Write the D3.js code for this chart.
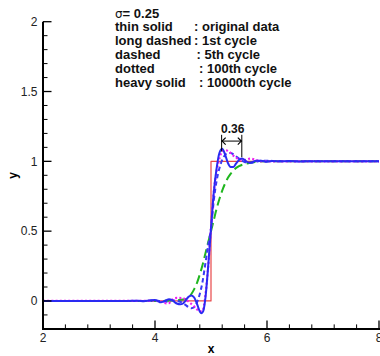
<!DOCTYPE html>
<html>
<head>
<meta charset="utf-8">
<script src="https://cdn.jsdelivr.net/npm/d3@7/dist/d3.min.js"></script>
<style>
  html, body { margin: 0; padding: 0; background: #fff; }
  svg { display: block; font-family: Arial, "Liberation Sans", Helvetica, sans-serif; }
</style>
</head>
<body>
<svg id="chart" width="380" height="356"></svg>
<script>
// ---------------- data ----------------
const xTicks = [2, 4, 6, 8];
const yTicks = [0, 0.5, 1, 1.5, 2];
const xTickLabels = ["2", "4", "6", "8"];
const yTickLabels = ["0", "0.5", "1", "1.5", "2"];

const origX = [2, 5, 5, 8];
const origY = [0, 0, 1, 1];

const cyc1X = [2, 4.0, 4.3, 4.5, 4.6, 4.65, 4.7, 4.75, 4.8, 4.85, 4.9, 4.95, 5.0, 5.05, 5.1, 5.15, 5.2, 5.25, 5.3, 5.35, 5.4, 5.5, 5.6, 5.7, 5.8, 6.0, 8];
const cyc1Y = [0, 0, 0.003, 0.01, 0.025, 0.05, 0.085, 0.13, 0.19, 0.26, 0.34, 0.42, 0.5, 0.58, 0.66, 0.73, 0.79, 0.84, 0.88, 0.91, 0.935, 0.965, 0.98, 0.99, 0.996, 1.0, 1.0];

const cyc5X = [2, 3.8, 4.0, 4.1, 4.2, 4.3, 4.4, 4.5, 4.55, 4.6, 4.65, 4.7, 4.75, 4.8, 4.85, 4.9, 4.95, 5.0, 5.05, 5.1, 5.15, 5.2, 5.25, 5.3, 5.35, 5.4, 5.45, 5.5, 5.55, 5.6, 5.65, 5.7, 5.8, 5.9, 6.0, 6.2, 8];
const cyc5Y = [0, 0, 0.003, 0.0, -0.005, 0.005, 0.0, -0.015, -0.03, -0.045, -0.052, -0.045, -0.01, 0.05, 0.14, 0.27, 0.4, 0.52, 0.72, 0.86, 0.95, 1.01, 1.045, 1.06, 1.06, 1.05, 1.035, 1.02, 1.005, 0.995, 0.99, 0.99, 0.995, 1.005, 1.005, 1.0, 1.0];

const cyc100X = [2, 3.8, 4.0, 4.1, 4.2, 4.25, 4.3, 4.35, 4.4, 4.5, 4.6, 4.7, 4.75, 4.8, 4.85, 4.9, 4.95, 5.0, 5.05, 5.1, 5.15, 5.2, 5.25, 5.3, 5.35, 5.4, 5.45, 5.5, 5.6, 5.7, 5.8, 5.9, 6.0, 6.2, 8];
const cyc100Y = [0, 0, 0.002, -0.005, -0.017, -0.015, 0.005, 0.02, 0.022, 0.02, -0.005, -0.04, -0.06, -0.075, -0.07, 0.04, 0.25, 0.52, 0.78, 0.93, 1.02, 1.07, 1.08, 1.075, 1.06, 1.04, 1.025, 1.015, 1.01, 1.02, 1.01, 1.0, 1.0, 1.0, 1.0];

const cyc10000X = [2, 3.5, 3.7, 3.8, 3.9, 4.0, 4.05, 4.1, 4.15, 4.2, 4.25, 4.3, 4.35, 4.4, 4.45, 4.5, 4.55, 4.6, 4.65, 4.7, 4.75, 4.8, 4.83, 4.86, 4.9, 4.95, 5.0, 5.05, 5.1, 5.15, 5.2, 5.25, 5.3, 5.35, 5.4, 5.45, 5.5, 5.55, 5.6, 5.65, 5.7, 5.75, 5.8, 5.9, 6.0, 6.1, 6.2, 6.4, 6.6, 6.8, 7.0, 8];
const cyc10000Y = [0, 0, 0.002, -0.002, 0.003, 0.007, 0.0, -0.01, -0.005, 0.005, 0.012, 0.008, -0.008, -0.02, -0.024, -0.018, 0.005, 0.03, 0.04, 0.025, -0.02, -0.075, -0.088, -0.075, 0.02, 0.25, 0.52, 0.78, 0.95, 1.06, 1.09, 1.05, 0.99, 0.96, 0.96, 0.985, 1.01, 1.02, 1.01, 0.995, 0.99, 0.995, 1.005, 1.005, 0.997, 1.003, 1.0, 1.002, 0.999, 1.001, 1.0, 1.0];

const legendTitle = ["σ", "= 0.25"];
const legendStyles = ["thin solid", "long dashed", "dashed", "dotted", "heavy solid"];
const legendMeaning = [": original data", ": 1st cycle", ": 5th cycle", ": 100th cycle", ": 10000th cycle"];

const annotX = [5.19, 5.55];
const annotLabel = "0.36";

// ---------------- drawing ----------------
const svg = d3.select("#chart");
const x = d3.scaleLinear().domain([2, 8]).range([43, 379]);
const y = d3.scaleLinear().domain([-0.2, 2]).range([328.9, 21.7]);

// series
const series = [
  { xs: origX, ys: origY, color: "#e8484a", width: 1.2, dash: null, curve: d3.curveLinear },
  { xs: cyc1X, ys: cyc1Y, color: "#1fb61f", width: 2, dash: "9,4.5", curve: d3.curveMonotoneX },
  { xs: cyc5X, ys: cyc5Y, color: "#3a3af5", width: 2, dash: "4.5,3", curve: d3.curveMonotoneX },
  { xs: cyc100X, ys: cyc100Y, color: "#f020f0", width: 2.2, dash: "2,2.2", curve: d3.curveMonotoneX },
  { xs: cyc10000X, ys: cyc10000Y, color: "#2a2af2", width: 2, dash: null, curve: d3.curveMonotoneX }
];

series.forEach(s => {
  const pts = s.xs.map((v, i) => [v, s.ys[i]]);
  const line = d3.line().x(d => x(d[0])).y(d => y(d[1])).curve(s.curve);
  svg.append("path")
    .attr("d", line(pts))
    .attr("fill", "none")
    .attr("stroke", s.color)
    .attr("stroke-width", s.width)
    .attr("stroke-dasharray", s.dash)
    .attr("stroke-linejoin", "round");
});

// axes
const axisG = svg.append("g");
const yMinor = d3.range(-0.1, 2.0001, 0.1).map(v => +v.toFixed(2)).filter(v => !yTicks.includes(v));
const xMinor = d3.range(2, 8.0001, 0.4).map(v => +v.toFixed(2)).filter(v => !xTicks.includes(v));

axisG.selectAll(".ymin").data(yMinor).enter().append("line")
  .attr("x1", x(2)).attr("x2", x(2) + 4.5)
  .attr("y1", d => y(d)).attr("y2", d => y(d))
  .attr("stroke", "#000").attr("stroke-width", 1);
axisG.selectAll(".ymaj").data(yTicks).enter().append("line")
  .attr("x1", x(2)).attr("x2", x(2) + 8.5)
  .attr("y1", d => y(d)).attr("y2", d => y(d))
  .attr("stroke", "#000").attr("stroke-width", 1.3);
axisG.selectAll(".xmin").data(xMinor).enter().append("line")
  .attr("y1", y(-0.2)).attr("y2", y(-0.2) - 4.5)
  .attr("x1", d => x(d)).attr("x2", d => x(d))
  .attr("stroke", "#000").attr("stroke-width", 1);
axisG.selectAll(".xmaj").data(xTicks).enter().append("line")
  .attr("y1", y(-0.2)).attr("y2", y(-0.2) - 8.5)
  .attr("x1", d => x(d)).attr("x2", d => x(d))
  .attr("stroke", "#000").attr("stroke-width", 1.3);

axisG.append("line").attr("x1", x(2)).attr("x2", x(2)).attr("y1", y(2)).attr("y2", y(-0.2) + 1)
  .attr("stroke", "#000").attr("stroke-width", 2);
axisG.append("line").attr("x1", x(2) - 1).attr("x2", x(8) + 1).attr("y1", y(-0.2)).attr("y2", y(-0.2))
  .attr("stroke", "#000").attr("stroke-width", 2);

axisG.selectAll(".ylab").data(yTicks).enter().append("text")
  .attr("x", x(2) - 5.5).attr("y", d => y(d) + 4.3)
  .attr("text-anchor", "end").attr("font-size", 12).attr("fill", "#222")
  .text((d, i) => yTickLabels[i]);
axisG.selectAll(".xlab").data(xTicks).enter().append("text")
  .attr("x", d => x(d)).attr("y", y(-0.2) + 13)
  .attr("text-anchor", "middle").attr("font-size", 12).attr("fill", "#222")
  .text((d, i) => xTickLabels[i]);

svg.append("text").attr("x", x(5)).attr("y", 353)
  .attr("text-anchor", "middle").attr("font-size", 12).attr("font-weight", "bold").text("x");
svg.append("text").attr("transform", `translate(17,${y(0.9)}) rotate(-90)`)
  .attr("text-anchor", "middle").attr("font-size", 12).attr("font-weight", "bold").text("y");

// legend text block
const lg = svg.append("g").attr("font-size", 13).attr("font-weight", "bold").attr("fill", "#111");
const t0 = lg.append("text").attr("x", 115).attr("y", 17.5);
t0.append("tspan").attr("font-weight", "normal").attr("font-family", "DejaVu Sans, sans-serif").attr("font-size", 12).text(legendTitle[0]);
t0.append("tspan").text(legendTitle[1]);
const colonX = [194, 194, 196.5, 199, 199];
legendStyles.forEach((s, i) => {
  const yy = 31 + i * 13.9;
  lg.append("text").attr("x", 115).attr("y", yy).text(s);
  lg.append("text").attr("x", colonX[i]).attr("y", yy).text(legendMeaning[i]);
});

// annotation 0.36
const ax0 = x(annotX[0]), ax1 = x(annotX[1]);
const aTop = y(1.19), aY = y(1.145);
svg.append("line").attr("x1", ax0).attr("x2", ax0).attr("y1", aTop).attr("y2", y(1.07)).attr("stroke", "#000").attr("stroke-width", 1);
svg.append("line").attr("x1", ax1).attr("x2", ax1).attr("y1", aTop).attr("y2", y(1.03)).attr("stroke", "#000").attr("stroke-width", 1);
svg.append("line").attr("x1", ax0).attr("x2", ax1).attr("y1", aY).attr("y2", aY).attr("stroke", "#000").attr("stroke-width", 1);
svg.append("path").attr("d", `M${ax0 + 4},${aY - 3.5} L${ax0 + 0.5},${aY} L${ax0 + 4},${aY + 3.5}`)
  .attr("fill", "none").attr("stroke", "#000").attr("stroke-width", 1.2);
svg.append("path").attr("d", `M${ax1 - 4},${aY - 3.5} L${ax1 - 0.5},${aY} L${ax1 - 4},${aY + 3.5}`)
  .attr("fill", "none").attr("stroke", "#000").attr("stroke-width", 1.2);
svg.append("text").attr("x", (ax0 + ax1) / 2 + 1).attr("y", aTop - 1.5)
  .attr("text-anchor", "middle").attr("font-size", 12).attr("font-weight", "bold").attr("fill", "#111").text(annotLabel);
</script>
</body>
</html>
